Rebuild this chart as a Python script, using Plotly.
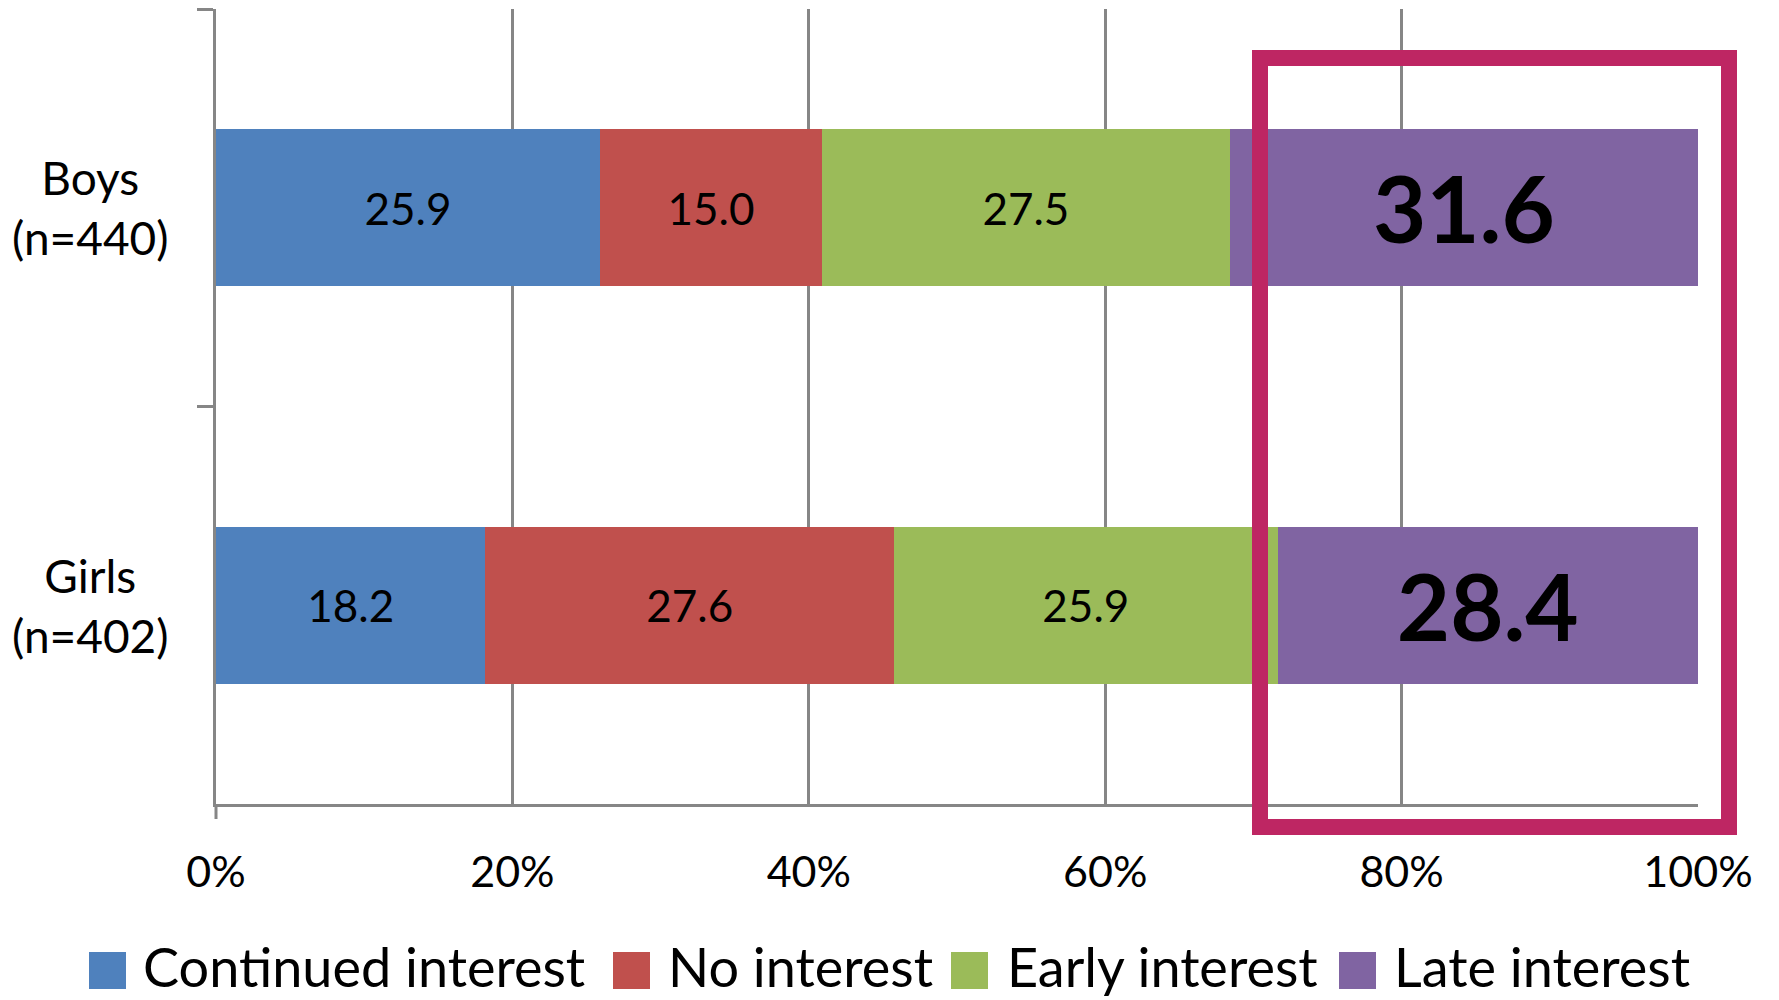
import plotly.graph_objects as go

# ---- data ----
categories = ["Boys (n=440)", "Girls (n=402)"]
category_labels = ["Boys<br>(n=440)", "Girls<br>(n=402)"]
series_names = ["Continued interest", "No interest", "Early interest", "Late interest"]
continued_interest = [25.9, 18.2]
no_interest = [15.0, 27.6]
early_interest = [27.5, 25.9]
late_interest = [31.6, 28.4]
series_values = [continued_interest, no_interest, early_interest, late_interest]
x_tick_values = [0, 20, 40, 60, 80, 100]
x_tick_labels = ["0%", "20%", "40%", "60%", "80%", "100%"]

# ---- styles ----
colors = ["#4F81BD", "#C0504D", "#9BBB59", "#8064A2"]
FONT = "Lato"
GRID = "#868686"
W, H = 1779, 1000
PL, PR, PT, PB = 216, 1698, 9, 804  # plot area in pixels


def px_x(px):
    return (px - PL) / (PR - PL)


def px_y(py):
    return (PB - py) / (PB - PT)


fig = go.Figure()
for i, (name, vals) in enumerate(zip(series_names, series_values)):
    big = i == 3
    fig.add_trace(go.Bar(
        name=name,
        y=categories,
        x=vals,
        orientation="h",
        marker=dict(color=colors[i], line=dict(width=0)),
        text=[f"{v:.1f}" for v in vals],
        textposition="inside",
        insidetextanchor="middle",
        textangle=0,
        constraintext="none",
        textfont=dict(family=FONT, size=92 if big else 44, color="black",
                      weight="bold" if big else "normal"),
        showlegend=False,
        hoverinfo="skip",
    ))

# category labels (centered two-line)
annotations = []
for cat, lab in zip(categories, category_labels):
    annotations.append(dict(
        x=px_x(91), xref="paper", y=cat, yref="y", text=lab, showarrow=False,
        xanchor="center", yanchor="middle", align="center",
        font=dict(family=FONT, size=46, color="black"),
    ))

# manual legend
sq_x = [89, 613, 951, 1339]
txt_x = [141, 666, 1005, 1392]
shapes = []
for i, name in enumerate(series_names):
    shapes.append(dict(
        type="rect", xref="paper", yref="paper",
        x0=px_x(sq_x[i]), x1=px_x(sq_x[i] + 37),
        y0=px_y(989), y1=px_y(952),
        fillcolor=colors[i], line=dict(width=0),
    ))
    annotations.append(dict(
        x=px_x(txt_x[i]), xref="paper", y=px_y(966), yref="paper",
        text=name, showarrow=False, xanchor="left", yanchor="middle",
        font=dict(family=FONT, size=54, color="black"),
    ))

# small stub of the value axis below the origin
shapes.append(dict(
    type="line", xref="paper", yref="paper",
    x0=0, x1=0, y0=px_y(804), y1=px_y(819),
    line=dict(color=GRID, width=3),
))

# highlight box
shapes.append(dict(
    type="rect", xref="paper", yref="paper",
    x0=px_x(1260), x1=px_x(1729), y0=px_y(827), y1=px_y(58),
    line=dict(color="#BE2663", width=16), fillcolor="rgba(0,0,0,0)",
))

fig.update_layout(
    width=W, height=H,
    margin=dict(l=PL, r=W - PR, t=PT, b=H - PB),
    barmode="stack",
    barnorm="percent",
    bargap=0.605,
    plot_bgcolor="white",
    paper_bgcolor="white",
    showlegend=False,
    font=dict(family=FONT, color="black"),
    shapes=shapes,
    annotations=annotations,
    xaxis=dict(
        range=[0, 100], tickvals=x_tick_values, ticktext=x_tick_labels,
        showgrid=True, gridcolor=GRID, gridwidth=2.5,
        showline=True, linecolor=GRID, linewidth=3, zeroline=False,
        ticks="outside", ticklen=28, tickcolor="rgba(0,0,0,0)",
        tickfont=dict(family=FONT, size=43, color="black"),
        fixedrange=True,
    ),
    yaxis=dict(
        type="category", categoryorder="array", categoryarray=categories,
        autorange="reversed", showticklabels=False,
        ticks="outside", tickson="boundaries", ticklen=16,
        tickcolor=GRID, tickwidth=3,
        showline=True, linecolor=GRID, linewidth=3, showgrid=False,
        zeroline=False, fixedrange=True,
    ),
)

fig.write_html("out.html")
